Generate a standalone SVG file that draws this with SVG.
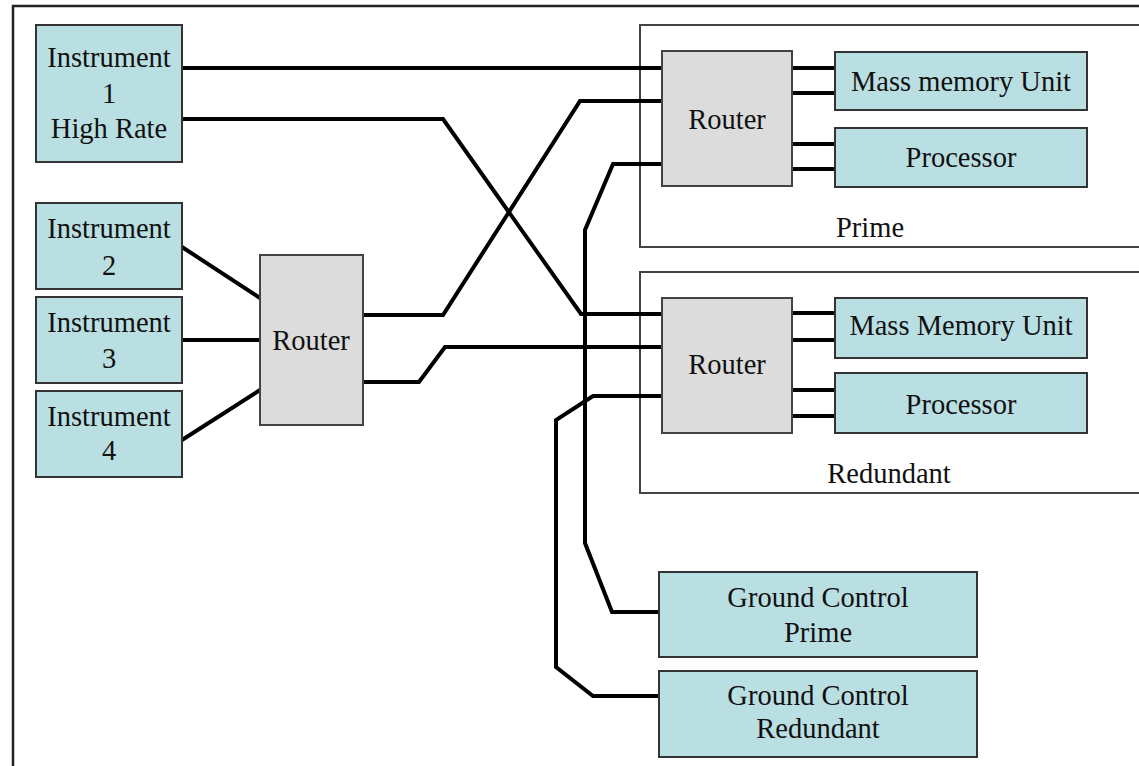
<svg xmlns="http://www.w3.org/2000/svg" width="1139" height="766" viewBox="0 0 1139 766">
<style>
  .t { font-family: "Liberation Serif", "Times New Roman", serif; font-size: 28.5px; fill: #111; text-anchor: middle; }
  .node { fill: #badfe3; stroke: #333; stroke-width: 2; }
  .router { fill: #dcdcdc; stroke: #444; stroke-width: 2; }
  .container { fill: none; stroke: #444; stroke-width: 2; }
  .wire { fill: none; stroke: #000; stroke-width: 4; stroke-linejoin: miter; }
</style>
<rect x="0" y="0" width="1139" height="766" fill="#fff"/>
<path d="M13,766 V6 H1139" fill="none" stroke="#222" stroke-width="2.5"/>

<g id="prime-container">
  <path class="container" d="M1139,25 H640 V247 H1139"/>
  <text class="t" x="870" y="237">Prime</text>
</g>
<g id="redundant-container">
  <path class="container" d="M1139,272 H640 V493 H1139"/>
  <text class="t" x="889" y="483">Redundant</text>
</g>

<g id="connectors">
  <path class="wire" d="M182,68 H662"/>
  <path class="wire" d="M182,119 H443 L581,314 H662"/>
  <path class="wire" d="M182,247 L260,298"/>
  <path class="wire" d="M182,340 H260"/>
  <path class="wire" d="M182,440 L260,390"/>
  <path class="wire" d="M363,315 H443 L580,101 H662"/>
  <path class="wire" d="M363,382 H419 L445,347 H662"/>
  <path class="wire" d="M662,164 H613 L585,230 V543 L612,612 H659"/>
  <path class="wire" d="M662,396 H593 L556,420 V667 L593,696 H659"/>
  <path class="wire" d="M792,68 H835 M792,93 H835 M792,144 H835 M792,169 H835"/>
  <path class="wire" d="M792,313 H835 M792,340 H835 M792,390 H835 M792,416 H835"/>
</g>

<g id="instrument1">
  <rect class="node" x="36" y="25" width="146" height="137"/>
  <text class="t" x="109" y="67">Instrument</text>
  <text class="t" x="109" y="103">1</text>
  <text class="t" x="109" y="138">High Rate</text>
</g>
<g id="instrument2">
  <rect class="node" x="36" y="203" width="146" height="86"/>
  <text class="t" x="109" y="238">Instrument</text>
  <text class="t" x="109" y="275">2</text>
</g>
<g id="instrument3">
  <rect class="node" x="36" y="297" width="146" height="86"/>
  <text class="t" x="109" y="332">Instrument</text>
  <text class="t" x="109" y="368">3</text>
</g>
<g id="instrument4">
  <rect class="node" x="36" y="391" width="146" height="86"/>
  <text class="t" x="109" y="426">Instrument</text>
  <text class="t" x="109" y="460">4</text>
</g>
<g id="router-left">
  <rect class="router" x="260" y="255" width="103" height="170"/>
  <text class="t" x="311" y="350">Router</text>
</g>
<g id="router-prime">
  <rect class="router" x="662" y="51" width="130" height="135"/>
  <text class="t" x="727" y="129">Router</text>
</g>
<g id="mmu-prime">
  <rect class="node" x="835" y="52" width="252" height="58"/>
  <text class="t" x="961" y="91">Mass memory Unit</text>
</g>
<g id="processor-prime">
  <rect class="node" x="835" y="128" width="252" height="59"/>
  <text class="t" x="961" y="167">Processor</text>
</g>
<g id="router-redundant">
  <rect class="router" x="662" y="298" width="130" height="135"/>
  <text class="t" x="727" y="374">Router</text>
</g>
<g id="mmu-redundant">
  <rect class="node" x="835" y="298" width="252" height="60"/>
  <text class="t" x="961" y="335">Mass Memory Unit</text>
</g>
<g id="processor-redundant">
  <rect class="node" x="835" y="373" width="252" height="60"/>
  <text class="t" x="961" y="414">Processor</text>
</g>
<g id="ground-prime">
  <rect class="node" x="659" y="572" width="318" height="85"/>
  <text class="t" x="818" y="607">Ground Control</text>
  <text class="t" x="818" y="642">Prime</text>
</g>
<g id="ground-redundant">
  <rect class="node" x="659" y="671" width="318" height="86"/>
  <text class="t" x="818" y="705">Ground Control</text>
  <text class="t" x="818" y="738">Redundant</text>
</g>
</svg>
